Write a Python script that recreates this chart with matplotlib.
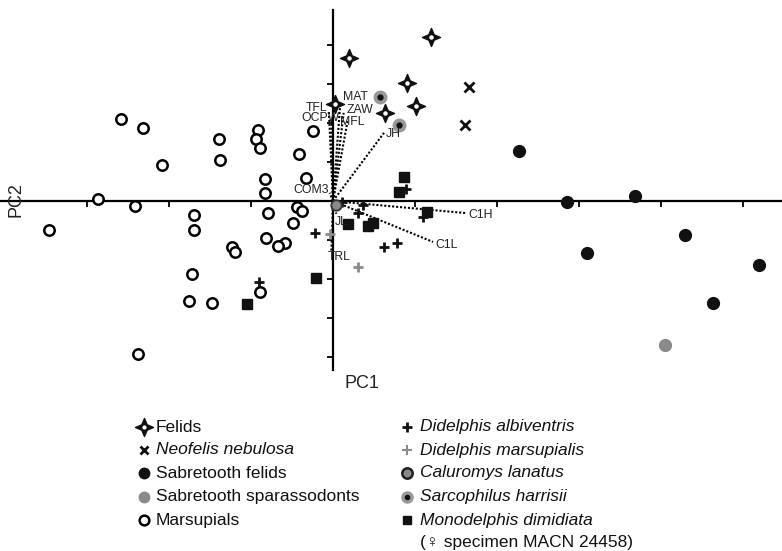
import numpy as np
import matplotlib
matplotlib.use("Agg")
import matplotlib.pyplot as plt
from matplotlib.path import Path

plt.rcParams['font.family'] = ['Liberation Sans', 'DejaVu Sans']

# === PCA scores (PC1, PC2) ===
felids_x = [0.20, 1.20, 0.90, 1.01, 0.63, 0.02]
felids_y = [3.67, 4.21, 3.03, 2.44, 2.26, 2.49]

neofelis_x = [1.66, 1.61]
neofelis_y = [2.92, 1.95]

sabre_felids_x = [2.27, 2.85, 3.68, 4.29, 3.10, 5.20, 4.63]
sabre_felids_y = [1.28, -0.03, 0.13, -0.87, -1.33, -1.64, -2.62]

sabre_spar_x = [4.05]
sabre_spar_y = [-3.69]

marsup_x = [-2.59, -2.32, -1.39, -0.91, -0.94, -0.89, -0.24, -0.41, -2.09, -1.38,
            -0.33, -0.83, -0.83, -2.87, -2.41, -0.44, -0.38, -0.79, -1.70, -3.46,
            -1.70, -0.49, -0.82, -0.59, -0.67, -1.23, -1.20, -1.72, -1.76, -1.48,
            -0.89, -2.38]
marsup_y = [2.10, 1.87, 1.59, 1.82, 1.59, 1.36, 1.79, 1.21, 0.92, 1.05,
            0.59, 0.56, 0.21, 0.05, -0.13, -0.15, -0.26, -0.31, -0.36, -0.74,
            -0.74, -0.56, -0.95, -1.08, -1.15, -1.18, -1.31, -1.87, -2.56, -2.62,
            -2.33, -3.92]

d_albi_x = [-0.22, -0.90, 0.30, 0.62, 0.78, 1.10, 0.89, 0.11, 0.37]
d_albi_y = [-0.82, -2.08, -0.31, -1.18, -1.08, -0.41, 0.31, -0.03, -0.10]

d_mars_x = [0.30, -0.04]
d_mars_y = [-1.69, -0.85]

calur_x = [0.04]
calur_y = [-0.10]

sarco_x = [0.57, 0.80]
sarco_y = [2.67, 1.95]

monod_x = [-1.05, -0.21, 0.18, 0.43, 0.49, 1.15, 0.87, 0.80]
monod_y = [-2.64, -1.97, -0.59, -0.64, -0.56, -0.28, 0.62, 0.23]

# variable loadings (vector tips)
var_names = ['TFL', 'OCPW', 'MAT', 'ZAW', 'MFL', 'JH', 'COM3', 'JL', 'TRL', 'C1L', 'C1H']
var_x = [-0.05, -0.02, 0.09, 0.13, 0.18, 0.63, -0.04, 0.04, -0.02, 1.22, 1.62]
var_y = [2.28, 2.13, 2.54, 2.26, 2.08, 1.77, 0.21, -0.33, -1.31, -1.05, -0.31]
label_offsets = {'TFL': (-12, 4), 'OCPW': (-11, 0), 'MAT': (15, 5), 'ZAW': (16, 3),
                 'MFL': (4, -2), 'JH': (9, -2), 'COM3': (-19, 3), 'JL': (5, -8),
                 'TRL': (8, -5), 'C1L': (14, -3), 'C1H': (15, -2)}

star = Path.unit_regular_star(4, innerCircle=0.42)

fig = plt.figure(figsize=(7.82, 5.51), dpi=100)
ax = fig.add_axes([0, 151 / 551, 1, 400 / 551])
ax.set_xlim(-333 / 82, 449 / 82)
ax.set_ylim(-199 / 39, 201 / 39)
ax.patch.set_alpha(0)

# axes through the origin
for s in ['top', 'right']:
    ax.spines[s].set_visible(False)
ax.spines['left'].set_position(('data', 0))
ax.spines['bottom'].set_position(('data', 0))
ax.spines['left'].set_bounds(-4.33, 4.9)
ax.spines['left'].set_linewidth(1.6)
ax.spines['bottom'].set_linewidth(1.6)
ax.set_xticks([-3, -2, -1, 1, 2, 3, 4, 5])
ax.set_yticks([-4, -3, -2, -1, 1, 2, 3, 4])
ax.tick_params(direction='out', length=4, width=1.3, labelbottom=False, labelleft=False)

# loading vectors
for name, vx, vy in zip(var_names, var_x, var_y):
    ax.plot([0, vx], [0, vy], linestyle=(0, (1, 0.9)), color='black', linewidth=1.5, zorder=2)
    ax.annotate(name, (vx, vy), xytext=label_offsets[name], textcoords='offset pixels',
                ha='center', va='center', fontsize=8.8, color='#222222', zorder=5)

ax.plot(marsup_x, marsup_y, 'o', ms=7.5, mfc='white', mec='black', mew=1.8, zorder=3)
ax.plot(sabre_felids_x, sabre_felids_y, 'o', ms=8.5, color='#111111', zorder=3)
ax.plot(sabre_spar_x, sabre_spar_y, 'o', ms=8.5, color='#8a8a8a', zorder=3)
ax.plot(felids_x, felids_y, marker=star, ls='none', ms=13, color='#111111', zorder=4)
ax.plot(felids_x, felids_y, 'o', ms=2.2, color='white', zorder=4)
ax.plot(neofelis_x, neofelis_y, 'x', ms=7, mew=2, color='#111111', zorder=4)
ax.plot(d_albi_x, d_albi_y, '+', ms=7.5, mew=2, color='#111111', zorder=4)
ax.plot(d_mars_x, d_mars_y, '+', ms=7.5, mew=2, color='#8a8a8a', zorder=4)
ax.plot(monod_x, monod_y, 's', ms=6.5, color='#111111', zorder=4)
ax.plot(calur_x, calur_y, 'o', ms=7.5, mfc='#8a8a8a', mec='#333333', mew=1.3, zorder=4)
ax.plot(sarco_x, sarco_y, 'o', ms=9, color='#999999', zorder=4)
ax.plot(sarco_x, sarco_y, 'o', ms=3.5, color='#111111', zorder=4)

fig.text(8 / 782, 1 - 200 / 551, 'PC2', rotation=90, ha='left', va='center', fontsize=13, color='#222222')
fig.text(345 / 782, 1 - 384 / 551, 'PC1', ha='left', va='center', fontsize=13, color='#222222')

# legend drawn on an overlay in pixel units
lg = fig.add_axes([0, 0, 1, 1])
lg.set_xlim(0, 782)
lg.set_ylim(551, 0)
lg.axis('off')
rows = [427, 450, 473, 497, 520]

left_items = [
    ('Felids', 'normal', dict(marker=star, ms=13, color='#111111')),
    ('Neofelis nebulosa', 'italic', dict(marker='x', ms=6, mew=2, color='#111111')),
    ('Sabretooth felids', 'normal', dict(marker='o', ms=7.5, color='#111111')),
    ('Sabretooth sparassodonts', 'normal', dict(marker='o', ms=7.5, color='#8a8a8a')),
    ('Marsupials', 'normal', dict(marker='o', ms=7, mfc='white', mec='black', mew=1.8)),
]
right_items = [
    ('Didelphis albiventris', dict(marker='+', ms=7, mew=2, color='#111111')),
    ('Didelphis marsupialis', dict(marker='+', ms=6.5, mew=1.5, color='#8a8a8a')),
    ('Caluromys lanatus', dict(marker='o', ms=7.5, mfc='#8a8a8a', mec='#222222', mew=1.8)),
    ('Sarcophilus harrisii', dict(marker='o', ms=8, color='#999999')),
    ('Monodelphis dimidiata', dict(marker='s', ms=6, color='#111111')),
]

for (txt, style, kw), yy in zip(left_items, rows):
    lg.plot([144], [yy], ls='none', **kw)
    lg.text(156, yy, txt, style=style, fontsize=12.5, va='center', ha='left', color='#111111')
lg.plot([144], [427], 'o', ms=2, color='white')

for (txt, kw), yy in zip(right_items, rows):
    lg.plot([407], [yy], ls='none', **kw)
    lg.text(420, yy, txt, style='italic', fontsize=12.5, va='center', ha='left', color='#111111')
lg.plot([407], [497], 'o', ms=3, color='#111111')
lg.text(420, 542, '(\u2640 specimen MACN 24458)', fontsize=12.5, va='center', ha='left',
        color='#111111', family=['Liberation Sans', 'DejaVu Sans'])

fig.savefig('out.png', dpi=100)
